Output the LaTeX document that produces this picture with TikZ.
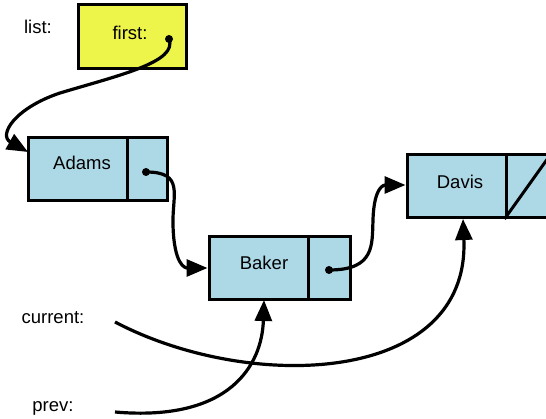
\documentclass[tikz,border=0pt]{standalone}
\usepackage{fontspec}
\setmainfont{Liberation Sans}
\usetikzlibrary{arrows.meta}
\definecolor{cellblue}{RGB}{173,216,230}
\definecolor{ptryellow}{RGB}{238,245,74}
\begin{document}
\begin{tikzpicture}[x=1pt,y=-1pt,
  cell/.style={draw=black,line width=3pt,fill=cellblue,inner sep=0pt,minimum height=63pt},
  lbl/.style={font=\fontsize{18.5}{21}\selectfont,inner sep=0pt},
  ptr/.style={line width=3.2pt,-{Triangle[length=21pt,width=17pt]}},
  dotc/.style={circle,fill=black,inner sep=0pt,minimum size=8pt}]
\useasboundingbox (0,0) rectangle (546,419);
\begin{scope}
\clip (0,0) rectangle (546,419);
% first box
\node[draw=black,line width=3pt,fill=ptryellow,minimum width=108pt,minimum height=64pt,inner sep=0pt] (first) at (132,37) {};
\node[lbl] (firstt) at (130,33) {first:};
\node[dotc] (fdot) at (169,39) {};
\node[lbl] (listt) at (38,27) {list:};
% Adams
\node[cell,minimum width=99pt] (adams) at (77.5,169.5) {};
\node[cell,minimum width=40pt] (adamsp) at (147,169.5) {};
\node[lbl] (adamst) at (82,163) {Adams};
\node[dotc] (adot) at (146,172) {};
% Baker
\node[cell,minimum width=99pt] (baker) at (258.5,268.5) {};
\node[cell,minimum width=42pt] (bakerp) at (329,268.5) {};
\node[lbl] (bakert) at (264,263) {Baker};
\node[dotc] (bdot) at (329,270) {};
% Davis
\node[cell,minimum width=99pt] (davis) at (456.5,186) {};
\node[cell,minimum width=50pt] (davisp) at (531,186) {};
\draw[line width=3pt] (davisp.south west) -- ++(45,-63);
\node[lbl] (davist) at (460,182) {Davis};
% labels
\node[lbl] (curt) at (53,318) {current:};
\node[lbl] (prevt) at (53,408) {prev:};
\coordinate (curs) at (115,322);
\coordinate (prevs) at (115,412);
% pointers
\draw[ptr] (fdot.center) .. controls (178,62) and (120,75) .. (60,93)
   .. controls (15,108) and (-2,135) .. (28,152);
\draw[ptr] (adot.center) .. controls (185,172) and (172,195) .. (173,225)
   .. controls (174,265) and (185,268) .. (baker.west |- 0,268);
\draw[ptr] (bdot.center) .. controls (375,270) and (372,245) .. (373,220)
   .. controls (374,185) and (385,185) .. (davis.west |- 0,185);
\draw[ptr] (curs) .. controls (250,393) and (470,385) .. (463,219);
\draw[ptr] (prevs) .. controls (230,422) and (262,365) .. (264,300);
\end{scope}
\end{tikzpicture}
\end{document}
